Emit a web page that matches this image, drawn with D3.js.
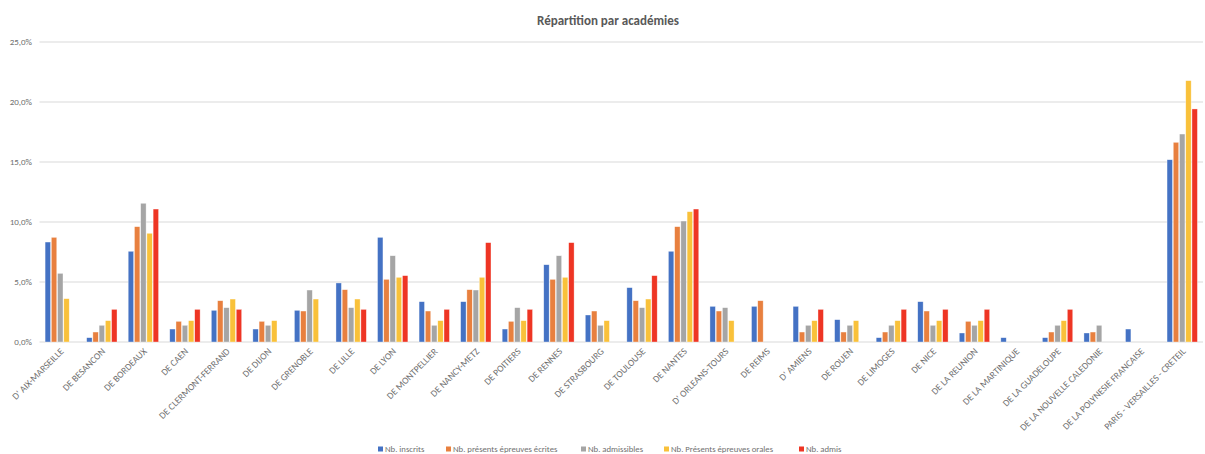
<!DOCTYPE html>
<html>
<head>
<meta charset="utf-8">
<script src="https://cdn.jsdelivr.net/npm/d3@7"></script>
<style>
  body { margin: 0; background: #fff; }
  text { font-family: Carlito, Lato, "Liberation Sans", sans-serif; }
</style>
</head>
<body>
<svg id="chart" width="1205" height="454"></svg>
<script>
const academies = [
  "D' AIX-MARSEILLE", "DE BESANCON", "DE BORDEAUX", "DE CAEN", "DE CLERMONT-FERRAND",
  "DE DIJON", "DE GRENOBLE", "DE LILLE", "DE LYON", "DE MONTPELLIER", "DE NANCY-METZ",
  "DE POITIERS", "DE RENNES", "DE STRASBOURG", "DE TOULOUSE", "DE NANTES",
  "D' ORLEANS-TOURS", "DE REIMS", "D' AMIENS", "DE ROUEN", "DE LIMOGES", "DE NICE",
  "DE LA REUNION", "DE LA MARTINIQUE", "DE LA GUADELOUPE", "DE LA NOUVELLE CALEDONIE",
  "DE LA POLYNESIE FRANCAISE", "PARIS - VERSAILLES - CRETEIL"
];

const seriesNames = [
  "Nb. inscrits", "Nb. présents épreuves écrites", "Nb. admissibles",
  "Nb. Présents épreuves orales", "Nb. admis"
];
const seriesColors = ["#4472C4", "#E8803F", "#A5A5A5", "#F9C13A", "#EE3524"];

// values in %
const inscrits = [8.33, 0.36, 7.56, 1.08, 2.64, 1.08, 2.64, 4.92, 8.72, 3.36, 3.36, 1.08, 6.44, 2.25,
  4.53, 7.56, 2.97, 2.97, 2.97, 1.86, 0.36, 3.36, 0.75, 0.36, 0.36, 0.75, 1.08, 15.19];
const presentsEcrits = [8.72, 0.83, 9.61, 1.72, 3.44, 1.72, 2.58, 4.36, 5.22, 2.58, 4.36, 1.72, 5.22, 2.58,
  3.44, 9.61, 2.58, 3.44, 0.83, 0.83, 0.83, 2.58, 1.72, 0, 0.83, 0.83, 0, 16.64];
const admissibles = [5.72, 1.39, 11.56, 1.39, 2.86, 1.39, 4.33, 2.86, 7.19, 1.39, 4.33, 2.86, 7.19, 1.39,
  2.86, 10.08, 2.86, 0, 1.39, 1.39, 1.39, 1.39, 1.39, 0, 1.39, 1.39, 0, 17.33];
const presentsOraux = [3.61, 1.78, 9.06, 1.78, 3.58, 1.78, 3.58, 3.58, 5.39, 1.78, 5.39, 1.78, 5.39, 1.78,
  3.58, 10.86, 1.78, 0, 1.78, 1.78, 1.78, 1.78, 1.78, 0, 1.78, 0, 0, 21.78];
const admis = [0, 2.72, 11.08, 2.72, 2.72, 0, 0, 2.72, 5.53, 2.72, 8.28, 2.72, 8.28, 0,
  5.53, 11.08, 0, 0, 2.72, 0, 2.72, 2.72, 2.72, 0, 2.72, 0, 0, 19.42];

const yTicks = [0, 5, 10, 15, 20, 25];

const series = [inscrits, presentsEcrits, admissibles, presentsOraux, admis];

const svg = d3.select("#chart");
const margin = { left: 39.5, right: 1203, top: 42, bottom: 342 };

const x = d3.scaleBand().domain(academies).range([margin.left, margin.right]).paddingInner(0.25).paddingOuter(0.125);
const xs = d3.scaleBand().domain(d3.range(series.length)).range([0, x.bandwidth()]);
const y = d3.scaleLinear().domain([0, 25]).range([margin.bottom, margin.top]);

const fmt = (v) => d3.format(".1f")(v).replace(".", ",") + "%";

// gridlines
svg.append("g")
  .selectAll("line")
  .data(yTicks)
  .join("line")
  .attr("x1", margin.left)
  .attr("x2", margin.right)
  .attr("y1", (d) => y(d))
  .attr("y2", (d) => y(d))
  .attr("stroke", "#D9D9D9")
  .attr("stroke-width", 1);

// y labels
svg.append("g")
  .selectAll("text")
  .data(yTicks)
  .join("text")
  .attr("x", 32)
  .attr("y", (d) => y(d))
  .attr("dy", "0.35em")
  .attr("text-anchor", "end")
  .attr("font-size", 9)
  .attr("fill", "#6f6f6f")
  .text(fmt);

// bars
const groups = svg.append("g")
  .selectAll("g")
  .data(academies)
  .join("g")
  .attr("transform", (d) => `translate(${x(d)},0)`);

groups.selectAll("rect")
  .data((d, i) => series.map((s, k) => ({ k, v: s[i] })).filter((e) => e.v > 0))
  .join("rect")
  .attr("x", (d) => xs(d.k) + 0.4)
  .attr("width", xs.bandwidth() - 0.8)
  .attr("y", (d) => y(d.v))
  .attr("height", (d) => y(0) - y(d.v))
  .attr("fill", (d) => seriesColors[d.k])
  .attr("stroke", "#fff")
  .attr("stroke-opacity", 0.6)
  .attr("stroke-width", 0.6);

// category labels
svg.append("g")
  .selectAll("text")
  .data(academies)
  .join("text")
  .attr("transform", (d) => `translate(${x(d) + x.bandwidth() / 2 + 4},${margin.bottom + 10}) rotate(-45)`)
  .attr("text-anchor", "end")
  .attr("font-size", 9.5)
  .attr("fill", "#6f6f6f")
  .text((d) => d);

// title
svg.append("text")
  .attr("x", 608)
  .attr("y", 25)
  .attr("text-anchor", "middle")
  .attr("font-size", 13)
  .attr("font-weight", "bold")
  .attr("fill", "#595959")
  .text("Répartition par académies");

// legend
const legendX = [378, 446, 581, 664, 799];
const legend = svg.append("g")
  .selectAll("g")
  .data(seriesNames)
  .join("g")
  .attr("transform", (d, i) => `translate(${legendX[i]},449)`);
legend.append("rect")
  .attr("x", 0).attr("y", -2.5)
  .attr("width", 5).attr("height", 5)
  .attr("fill", (d, i) => seriesColors[i]);
legend.append("text")
  .attr("x", 7)
  .attr("dy", "0.35em")
  .attr("font-size", 8.7)
  .attr("fill", "#6f6f6f")
  .text((d) => d);
</script>
</body>
</html>
